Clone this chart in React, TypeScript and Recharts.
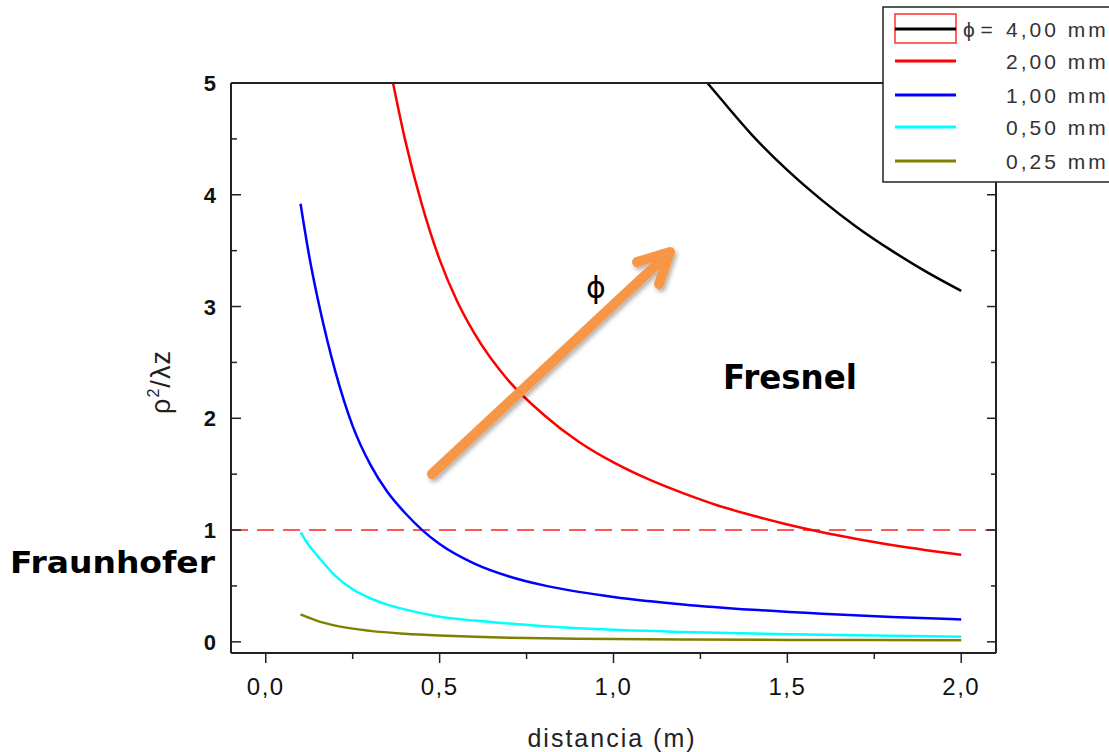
import { Line, LineChart, ReferenceLine, XAxis, YAxis } from 'recharts'

// diámetros de apertura
const SERIES_LABELS = ['4,00 mm', '2,00 mm', '1,00 mm', '0,50 mm', '0,25 mm']
const SERIES_COLORS = ['#000000', '#ff0000', '#0000ff', '#00ffff', '#808000']

// distancia z (m) y ρ²/λz, una serie por diámetro
const z400 = [1.27, 1.3, 1.4, 1.5, 1.6, 1.7, 1.8, 1.9, 2.0]
const v400 = [5.0, 4.89, 4.53, 4.22, 3.95, 3.71, 3.5, 3.31, 3.14]

const z200 = [0.366, 0.4, 0.45, 0.5, 0.55, 0.6, 0.7, 0.8, 0.9, 1.0, 1.1, 1.2, 1.3, 1.4, 1.5, 1.6, 1.7, 1.8, 1.9, 2.0]
const v200 = [5.0, 4.5, 3.9, 3.42, 3.05, 2.76, 2.33, 2.03, 1.79, 1.605, 1.455, 1.33, 1.22, 1.13, 1.05, 0.98, 0.92, 0.866, 0.82, 0.778]

const z100 = [0.1, 0.125, 0.15, 0.175, 0.2, 0.25, 0.3, 0.35, 0.4, 0.45, 0.5, 0.6, 0.7, 0.8, 0.9, 1.0, 1.2, 1.4, 1.6, 1.8, 2.0]
const v100 = [3.92, 3.45, 3.06, 2.72, 2.42, 1.93, 1.59, 1.34, 1.155, 1.0, 0.875, 0.7, 0.585, 0.505, 0.447, 0.402, 0.335, 0.287, 0.251, 0.223, 0.2]

const z050 = [0.1, 0.125, 0.15, 0.2, 0.25, 0.3, 0.35, 0.4, 0.5, 0.6, 0.7, 0.8, 0.9, 1.0, 1.2, 1.4, 1.6, 1.8, 2.0]
const v050 = [0.98, 0.86, 0.765, 0.59, 0.47, 0.39, 0.333, 0.29, 0.225, 0.19, 0.163, 0.14, 0.122, 0.107, 0.088, 0.074, 0.063, 0.054, 0.046]

const z025 = [0.1, 0.15, 0.2, 0.3, 0.4, 0.5, 0.6, 0.7, 0.85, 1.0, 1.2, 1.5, 2.0]
const v025 = [0.245, 0.185, 0.145, 0.098, 0.072, 0.056, 0.045, 0.037, 0.03, 0.025, 0.02, 0.017, 0.015]

const X_TICKS = [0, 0.25, 0.5, 0.75, 1, 1.25, 1.5, 1.75, 2]
const Y_TICKS = [0, 0.5, 1, 1.5, 2, 2.5, 3, 3.5, 4, 4.5, 5]
const LIMIT = 1

const toPoints = (zs: number[], vs: number[]) => zs.map((z, i) => ({ z, v: vs[i] }))

const SERIES = [
  toPoints(z400, v400),
  toPoints(z200, v200),
  toPoints(z100, v100),
  toPoints(z050, v050),
  toPoints(z025, v025),
]

const AXIS = '#222'
const SANS = '"Liberation Sans", Arial, sans-serif'
const COMIC = '"Comic Sans MS", "DejaVu Sans", sans-serif'

const isMajorX = (v: number) => Math.abs(v * 2 - Math.round(v * 2)) < 1e-6

function BottomTick({ x, y, payload }: any) {
  const major = isMajorX(payload.value)
  return (
    <g>
      <line x1={x} x2={x} y1={y} y2={y + (major ? 10 : 6)} stroke={AXIS} strokeWidth={1.5} />
      {major && (
        <text x={x} y={y + 42} textAnchor="middle" fontFamily={SANS} fontSize={24} letterSpacing={1.5} fill="#111">
          {payload.value.toFixed(1).replace('.', ',')}
        </text>
      )}
    </g>
  )
}

function TopTick({ x, y, payload }: any) {
  const major = isMajorX(payload.value)
  return <line x1={x} x2={x} y1={y} y2={y + (major ? 10 : 5)} stroke={AXIS} strokeWidth={1.5} />
}

function LeftTick({ x, y, payload }: any) {
  const major = Number.isInteger(payload.value)
  return (
    <g>
      <line x1={x} x2={x + (major ? 10 : 6)} y1={y} y2={y} stroke={AXIS} strokeWidth={1.5} />
      {major && (
        <text x={x - 15} y={y + 8} textAnchor="end" fontFamily={SANS} fontWeight="bold" fontSize={22} fill="#111">
          {payload.value}
        </text>
      )}
    </g>
  )
}

function RightTick({ x, y, payload }: any) {
  const major = Number.isInteger(payload.value)
  return <line x1={x} x2={x - (major ? 9 : 5)} y1={y} y2={y} stroke={AXIS} strokeWidth={1.5} />
}

const legendRows = [29, 61, 95, 127, 161]

const axisCommon = {
  type: 'number' as const,
  allowDataOverflow: true,
  tickSize: 0,
  tickMargin: 0,
  tickLine: false,
  axisLine: { stroke: AXIS, strokeWidth: 2 },
  interval: 0 as const,
}

export default function App() {
  return (
    <div style={{ position: 'absolute', left: 0, top: 0, width: 1109, height: 752, background: '#fff' }}>
      <LineChart width={1109} height={752} margin={{ top: 82, right: 112, bottom: 98, left: 230 }}>
        <XAxis {...axisCommon} dataKey="z" domain={[-0.1, 2.1]} ticks={X_TICKS} height={1} tick={BottomTick} />
        <XAxis {...axisCommon} xAxisId="top" orientation="top" domain={[-0.1, 2.1]} ticks={X_TICKS} height={1} tick={TopTick} />
        <YAxis {...axisCommon} domain={[-0.1, 5]} ticks={Y_TICKS} width={1} tick={LeftTick} />
        <YAxis {...axisCommon} yAxisId="right" orientation="right" domain={[-0.1, 5]} ticks={Y_TICKS} width={1} tick={RightTick} />
        <ReferenceLine y={LIMIT} stroke="#ff2020" strokeWidth={1.5} strokeDasharray="17 9" />
        {SERIES.map((data, i) => (
          <Line
            key={SERIES_LABELS[i]}
            data={data}
            dataKey="v"
            type="monotone"
            stroke={SERIES_COLORS[i]}
            strokeWidth={2.5}
            dot={false}
            activeDot={false}
            isAnimationActive={false}
          />
        ))}
      </LineChart>

      <svg width={1109} height={752} style={{ position: 'absolute', left: 0, top: 0, pointerEvents: 'none' }}>
        <defs>
          <filter id="shadow" x="-20%" y="-20%" width="140%" height="140%">
            <feDropShadow dx="2" dy="3" stdDeviation="2" floodColor="#000" floodOpacity="0.3" />
          </filter>
        </defs>

        {/* ejes: títulos */}
        <text x={612} y={747} textAnchor="middle" fontFamily={SANS} fontSize={25} letterSpacing={2} fill="#222">
          distancia (m)
        </text>
        <text transform="rotate(-90 170 382)" x={170} y={382} textAnchor="middle" fontFamily={SANS} fontSize={27} letterSpacing={1} fill="#222">
          ρ<tspan dy={-11} fontSize={16}>2</tspan>
          <tspan dy={11}>/λz</tspan>
        </text>

        {/* anotaciones */}
        <g filter="url(#shadow)" stroke="#f79646" strokeWidth={10} strokeLinecap="round" strokeLinejoin="round" fill="none">
          <line x1={432} y1={474} x2={668} y2={254} />
          <polyline points="637,262 670,252 659,284" />
        </g>
        <text x={596} y={298} textAnchor="middle" fontFamily='"DejaVu Sans", sans-serif' fontSize={30} fill="#000">
          ϕ
        </text>
        <text x={723} y={389} textLength={134} lengthAdjust="spacingAndGlyphs" fontFamily={COMIC} fontWeight="bold" fontSize={33} fill="#000">
          Fresnel
        </text>
        <text x={10} y={573} textLength={205} lengthAdjust="spacingAndGlyphs" fontFamily={COMIC} fontWeight="bold" fontSize={31} fill="#000">
          Fraunhofer
        </text>

        {/* leyenda */}
        <rect x={883} y={7} width={240} height={175} fill="#fff" stroke="#222" strokeWidth={1.5} />
        <rect x={895} y={14} width={61} height={29} fill="none" stroke="#ff3030" strokeWidth={1.5} />
        {SERIES_LABELS.map((label, i) => (
          <g key={label}>
            <line x1={895} x2={956} y1={legendRows[i]} y2={legendRows[i]} stroke={SERIES_COLORS[i]} strokeWidth={3} />
            <text x={1006} y={legendRows[i] + 8} fontFamily={SANS} fontSize={21} letterSpacing={3} fill="#333">
              {label}
            </text>
          </g>
        ))}
        <text x={963} y={legendRows[0] + 8} fontFamily={SANS} fontSize={21} fill="#333">
          ϕ =
        </text>
      </svg>
    </div>
  )
}
